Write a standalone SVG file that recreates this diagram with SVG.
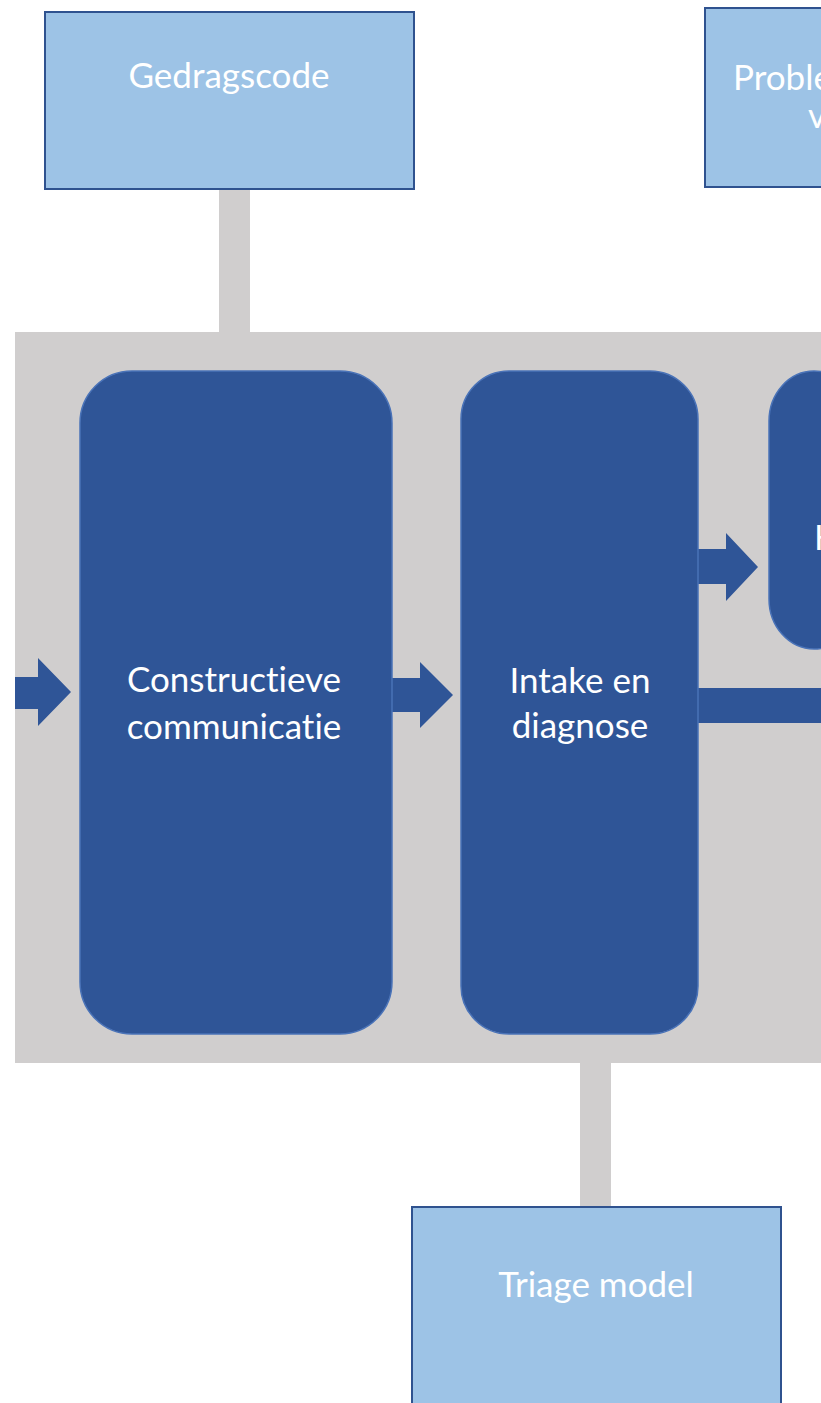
<svg xmlns="http://www.w3.org/2000/svg" width="821" height="1403" viewBox="0 0 821 1403">
  <style>
    .light { fill: #9DC3E6; stroke: #2F528F; stroke-width: 2; }
    .dark { fill: #2F5597; stroke: #4A73B8; stroke-width: 1.5; }
    .bar { fill: #D0CECE; }
    .arrow { fill: #2F5597; }
    .lbl { font-family: Lato, "Open Sans", "Liberation Sans", sans-serif; font-size: 35px; fill: #FFFFFF; text-anchor: middle; font-variant-ligatures: none; }
    .lbl2 { font-family: Lato, "Open Sans", "Liberation Sans", sans-serif; font-size: 35px; fill: #FFFFFF; text-anchor: start; font-variant-ligatures: none; }
  </style>
  <rect x="0" y="0" width="821" height="1403" fill="#FFFFFF"/>

  <g id="container">
    <rect class="bar" x="15" y="332" width="806" height="731"/>
  </g>

  <g id="connectors">
    <rect class="bar" x="219" y="188" width="31" height="145"/>
    <rect class="bar" x="580" y="1062" width="31" height="146"/>
    <polygon class="arrow" points="15,677 38,677 38,658 71,692 38,726 38,709 15,709"/>
    <polygon class="arrow" points="392,678 420,678 420,662 453,695 420,728 420,712 392,712"/>
    <polygon class="arrow" points="698,549 726,549 726,533 758,567 726,601 726,584 698,584"/>
    <rect class="arrow" x="690" y="688" width="131" height="35"/>
  </g>

  <g id="node-gedragscode">
    <rect class="light" x="45" y="12" width="369" height="177"/>
    <text class="lbl" x="229" y="88">Gedragscode</text>
  </g>

  <g id="node-proble">
    <rect class="light" x="705" y="8" width="130" height="179"/>
    <text class="lbl2" x="733" y="90">Proble</text>
    <text class="lbl2" x="808" y="128">v</text>
  </g>

  <g id="node-constructieve">
    <rect class="dark" x="80" y="371" width="312" height="663" rx="52" ry="52"/>
    <text class="lbl" x="234" y="692">Constructieve</text>
    <text class="lbl" x="234" y="739">communicatie</text>
  </g>

  <g id="node-intake">
    <rect class="dark" x="461" y="371" width="237" height="663" rx="48" ry="48"/>
    <text class="lbl" x="580" y="693">Intake en</text>
    <text class="lbl" x="580" y="738">diagnose</text>
  </g>

  <g id="node-third">
    <rect class="dark" x="769" y="371" width="90" height="278" rx="50" ry="50"/>
    <text class="lbl2" x="814" y="550">H</text>
  </g>

  <g id="node-triage">
    <rect class="light" x="412" y="1207" width="369" height="210"/>
    <text class="lbl" x="596" y="1297">Triage model</text>
  </g>
</svg>
